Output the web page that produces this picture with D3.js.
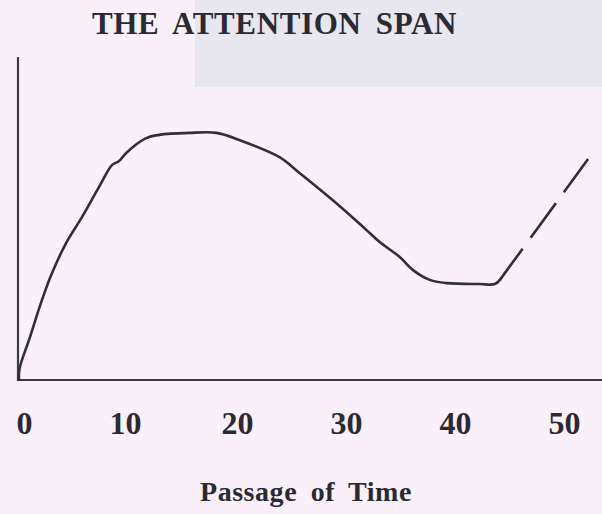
<!DOCTYPE html>
<html>
<head>
<meta charset="utf-8">
<script src="https://cdn.jsdelivr.net/npm/d3@7/dist/d3.min.js"></script>
<style>
  html, body { margin: 0; padding: 0; background: #faf0f9; }
  svg { display: block; }
  text { font-family: "Liberation Serif", "Times New Roman", serif; font-weight: bold; fill: #2b2a33; }
</style>
</head>
<body>
<svg id="chart" width="602" height="514"></svg>
<script>
// ---- data ----
const title = "THE ATTENTION SPAN";
const xLabel = "Passage of Time";
const tickValues = [0, 10, 20, 30, 40, 50];
const tickLabels = ["0", "10", "20", "30", "40", "50"];
// time (minutes) and attention level (arbitrary 0-100) of the solid curve
const timeSolid = [0, 0.05, 0.92, 2.11, 3.03, 4.32, 5.79, 7.35, 8.55, 9.19, 9.83, 11.67, 12.87, 15.6, 18.11, 20.22, 23.9, 25.74, 28.77, 31.89, 33.09, 34.93, 36.12, 37.68, 39.25, 42.28, 43.66, 44.12];
const attentionSolid = [0, 3.5, 12.4, 24.8, 33.1, 42.4, 50.5, 59.8, 66.6, 67.8, 70.3, 74.9, 75.9, 76.5, 76.5, 74.3, 69.0, 64.1, 55.7, 46.4, 42.7, 38.1, 34.1, 31.0, 30.0, 29.7, 29.7, 31.0];
// final rising (dashed) part
const timeDashed = [44.12, 52.21];
const attentionDashed = [31.0, 68.4];

const svg = d3.select("#chart");
const W = 602, H = 514;

// decorative scan background panel
svg.append("rect").attr("x", 195).attr("y", 0).attr("width", W - 195).attr("height", 87)
  .attr("fill", "#e8e6ee");

const x = d3.scaleLinear().domain([0, 50]).range([19, 564]);
const y = d3.scaleLinear().domain([0, 100]).range([380, 57]);

// axes lines
svg.append("line").attr("x1", 18).attr("x2", 18).attr("y1", y(100)).attr("y2", y(0) + 1)
  .attr("stroke", "#3a3a44").attr("stroke-width", 2.2);
svg.append("line").attr("x1", 17).attr("x2", W).attr("y1", y(0)).attr("y2", y(0))
  .attr("stroke", "#3a3a44").attr("stroke-width", 2.2);

// x tick labels via axis
const xAxis = d3.axisBottom(x).tickValues(tickValues).tickFormat((d, i) => tickLabels[i]).tickSize(0).tickPadding(0);
const gx = svg.append("g").attr("transform", `translate(0, 411)`).call(xAxis);
gx.select(".domain").remove();
gx.selectAll("text")
  .attr("dy", "0.71em")
  .style("font-family", '"Liberation Serif", "Times New Roman", serif')
  .style("font-weight", "bold")
  .style("font-size", "32px")
  .attr("fill", "#2b2a33");
gx.selectAll(".tick").filter((d) => d === 0).select("text").attr("dx", 5);
gx.selectAll(".tick").filter((d) => d === 10).select("text").attr("dx", -3);

// curve
const solid = timeSolid.map((t, i) => [t, attentionSolid[i]]);
const dashed = timeDashed.map((t, i) => [t, attentionDashed[i]]);
const line = d3.line().x(d => x(d[0])).y(d => y(d[1])).curve(d3.curveCatmullRom.alpha(0.5));
svg.append("path").datum(solid).attr("d", line)
  .attr("fill", "none").attr("stroke", "#2f2f3a").attr("stroke-width", 2.6)
  .attr("stroke-linejoin", "round").attr("stroke-linecap", "round");
svg.append("path").datum(dashed).attr("d", d3.line().x(d => x(d[0])).y(d => y(d[1])))
  .attr("fill", "none").attr("stroke", "#2f2f3a").attr("stroke-width", 2.6)
  .attr("stroke-dasharray", "38.6,13.6,42.8,13.4,60");

function fit(node, target) {
  const n = node.node();
  const len = n.getComputedTextLength();
  const chars = n.textContent.length;
  node.attr("letter-spacing", ((target - len) / chars).toFixed(2));
}

// title
const tt = svg.append("text").attr("x", 92).attr("y", 34)
  .attr("font-size", 31).attr("word-spacing", 6)
  .text(title);
fit(tt, 365);

// x axis title
const xl = svg.append("text").attr("x", 200).attr("y", 501)
  .attr("font-size", 28).attr("word-spacing", 6)
  .text(xLabel);
fit(xl, 212);
</script>
</body>
</html>
